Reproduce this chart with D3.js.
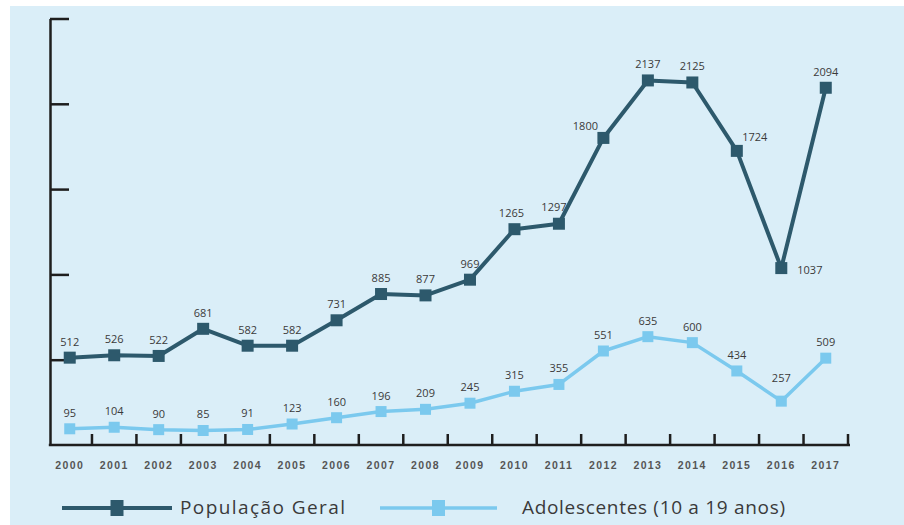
<!DOCTYPE html>
<html>
<head>
<meta charset="utf-8">
<script src="https://cdn.jsdelivr.net/npm/d3@7"></script>
<style>
	body{margin:0;background:#fff;}
	svg{display:block;font-family:"Open Sans",sans-serif;}
</style>
</head>
<body>
<svg width="904" height="525"></svg>
<script>
// anos
var years = ['2000','2001','2002','2003','2004','2005','2006','2007','2008','2009','2010','2011','2012','2013','2014','2015','2016','2017'];
// População Geral
var geral = [512,526,522,681,582,582,731,885,877,969,1265,1297,1800,2137,2125,1724,1037,2094];
// Adolescentes (10 a 19 anos)
var adolescentes = [95,104,90,85,91,123,160,196,209,245,315,355,551,635,600,434,257,509];
var yTicks = [500,1000,1500,2000,2500];
var seriesNames = ['População Geral', 'Adolescentes (10 a 19 anos)'];

var dark = '#2d596c', light = '#7bc9ee';
var svg = d3.select('svg');

svg.append('rect').attr('x', 10).attr('y', 6).attr('width', 894).attr('height', 519).attr('fill', '#daeef8');

var x = d3.scaleBand().domain(years).range([47.5, 848]);
var y = d3.scaleLinear().domain([0, 2500]).range([445, 18.5]);
var cx = d => x(d) + x.bandwidth() / 2;

// eixo y (sem rótulos, ticks para dentro)
var yAxis = d3.axisLeft(y).tickValues(yTicks).tickSize(-19).tickSizeOuter(0).tickFormat('');
var gy = svg.append('g').attr('transform', 'translate(50,0)').call(yAxis);
gy.selectAll('path,line').attr('stroke', '#1e1e1e').attr('stroke-width', 2.5);

// eixo x
var xAxis = d3.axisBottom(x).tickSize(0).tickPadding(17);
var gx = svg.append('g').attr('transform', 'translate(0,445)').call(xAxis);
gx.select('.domain').remove();
gx.selectAll('text').attr('font-size', 10.5).attr('font-weight', 'bold').attr('fill', '#555').attr('letter-spacing', 1.4);
gx.append('line').attr('x1', 48.8).attr('x2', 850).attr('stroke', '#1e1e1e').attr('stroke-width', 2.5);
gx.selectAll('.sep').data(years).enter().append('line')
	.attr('class', 'sep')
	.attr('x1', d => x(d) + x.bandwidth()).attr('x2', d => x(d) + x.bandwidth())
	.attr('y1', 0).attr('y2', -11)
	.attr('stroke', '#1e1e1e').attr('stroke-width', 2.5);

var line = d3.line().x((d, i) => cx(years[i])).y(d => y(d));

function drawSeries(values, color, width, size, labelPlace){
	var g = svg.append('g');
	g.append('path').datum(values).attr('d', line)
		.attr('fill', 'none').attr('stroke', color).attr('stroke-width', width).attr('stroke-linejoin', 'round');
	g.selectAll('rect').data(values).enter().append('rect')
		.attr('x', (d, i) => cx(years[i]) - size / 2)
		.attr('y', d => y(d) - size / 2)
		.attr('width', size).attr('height', size)
		.attr('fill', color);
	g.selectAll('text').data(values).enter().append('text')
		.attr('x', (d, i) => cx(years[i]) + (labelPlace[i] ? labelPlace[i][0] : 0))
		.attr('y', (d, i) => y(d) + (labelPlace[i] ? labelPlace[i][1] : -12))
		.attr('text-anchor', (d, i) => labelPlace[i] && labelPlace[i][2] ? labelPlace[i][2] : 'middle')
		.attr('font-size', 11).attr('fill', '#3a3a3a')
		.text(d => d);
}

drawSeries(geral, dark, 4, 12, {10: [-3, -12], 11: [-5, -13], 12: [-18, -8], 15: [18, -10], 16: [16, 6, 'start']});
drawSeries(adolescentes, light, 3.5, 11, {16: [0, -19]});

// legenda
var legend = svg.append('g').attr('transform', 'translate(0,508)');
var items = [{x0: 62, x1: 172, color: dark, w: 4, tx: 180, len: 165}, {x0: 380, x1: 497, color: light, w: 3.5, tx: 522, len: 263}];
items.forEach(function(it, i){
	legend.append('line').attr('x1', it.x0).attr('x2', it.x1).attr('stroke', it.color).attr('stroke-width', it.w);
	legend.append('rect').attr('x', (it.x0 + it.x1) / 2 - 6.5).attr('y', -8).attr('width', 13).attr('height', 16).attr('fill', it.color);
	legend.append('text').attr('x', it.tx).attr('y', 6).attr('font-size', 19).attr('fill', '#3a3a3a')
		.attr('textLength', it.len).attr('lengthAdjust', 'spacing').text(seriesNames[i]);
});
</script>
</body>
</html>
